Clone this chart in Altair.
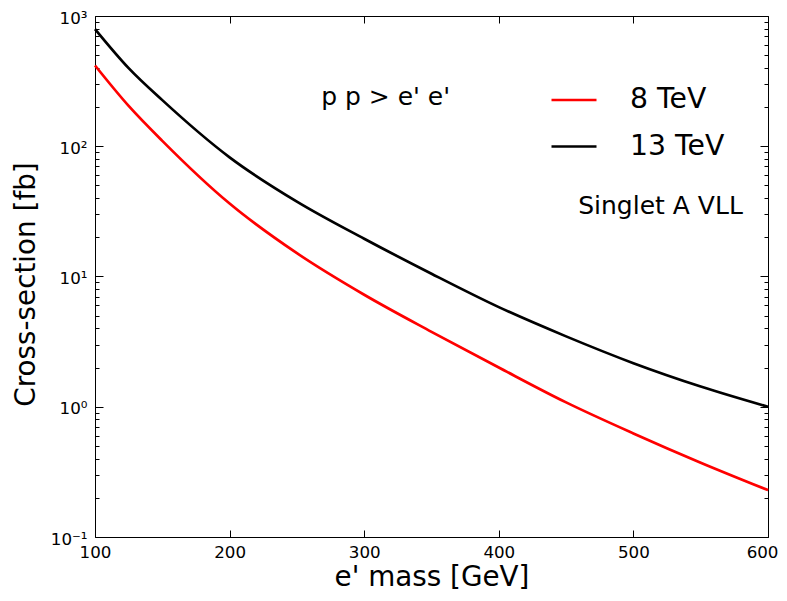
import altair as alt
import pandas as pd

# ---- data ----
mass = [100, 125, 150, 200, 250, 300, 350, 400, 450, 500, 550, 600]
xs_8tev = [417, 204, 110, 36.3, 15.1, 7.24, 3.76, 2.0, 1.08, 0.624, 0.372, 0.229]
xs_13tev = [794, 398, 226, 82.2, 37.6, 19.5, 10.5, 5.82, 3.47, 2.16, 1.43, 1.0]
series_names = ["8 TeV", "13 TeV"]
series_colors = ["#ff0000", "#000000"]

x_ticks = [100, 200, 300, 400, 500, 600]
y_major = [0.1, 1, 10, 100, 1000]
y_major_labels = ["10\u207b\u00b9", "10\u2070", "10\u00b9", "10\u00b2", "10\u00b3"]
y_minor = [m * 10.0 ** e for e in [-1, 0, 1, 2] for m in range(2, 10)]

notes = ["p p > e' e'", "Singlet A VLL"]
note_mass = [268, 459]
note_xs = [207, 30.3]

W, H = 673, 521

df = pd.DataFrame(
    {
        "mass": mass * 2,
        "xs": xs_8tev + xs_13tev,
        "series": [series_names[0]] * len(mass) + [series_names[1]] * len(mass),
    }
)
notes_df = pd.DataFrame({"text": notes, "mass": note_mass, "xs": note_xs})

xscale = alt.Scale(domain=[100, 600], nice=False, zero=False)
yscale = alt.Scale(type="log", domain=[0.1, 1000], nice=False)

label_expr = " : ".join(
    f"datum.value > {v*0.5} && datum.value < {v*2} ? '{l}'"
    for v, l in zip(y_major, y_major_labels)
) + " : ''"

FONT = "DejaVu Sans"

lines = (
    alt.Chart(df)
    .mark_line(strokeWidth=2.7, interpolate="monotone")
    .encode(
        x=alt.X(
            "mass:Q",
            scale=xscale,
            axis=alt.Axis(
                orient="bottom", values=x_ticks[:-1], ticks=False, domain=False, grid=False,
                labelFontSize=16.7, labelPadding=7, labelColor="#000",
                title="e'  mass [GeV]", titleFontSize=27.8, titleFontWeight="normal",
                titleColor="#000", titlePadding=3, labelFlush=False,
            ),
        ),
        y=alt.Y(
            "xs:Q",
            scale=yscale,
            axis=alt.Axis(
                orient="left", values=y_major, labelExpr=label_expr, ticks=False,
                domain=False, grid=False, labelFontSize=16.7, labelPadding=8,
                labelOffset=2, labelColor="#000", title="Cross-section [fb]",
                titleFontSize=27.8, titleFontWeight="normal", titleColor="#000",
                titlePadding=10, titleY=268,
            ),
        ),
        color=alt.Color(
            "series:N",
            scale=alt.Scale(domain=series_names, range=series_colors),
            legend=alt.Legend(
                orient="none", legendX=455, legendY=60, title=None,
                symbolType="stroke", symbolSize=2025, symbolStrokeWidth=2.7,
                labelFontSize=28.3, labelOffset=32, padding=0, rowPadding=8.5,
                labelColor="#000",
            ),
        ),
    )
)


def tick_layer(xaxis, yaxis):
    return alt.Chart(df).mark_point(opacity=0).encode(
        x=alt.X("mass:Q", scale=xscale, axis=xaxis),
        y=alt.Y("xs:Q", scale=yscale, axis=yaxis),
    )


def ax(orient, values, size, offset):
    return alt.Axis(
        orient=orient, values=values, labels=False, domain=False, grid=False,
        ticks=True, tickSize=size, tickColor="#000", tickWidth=1, offset=offset,
        title=None,
    )


# last x label kept inside the page (flush-aligned, pushed outward a little)
last_label_axis = alt.Axis(
    orient="bottom", values=x_ticks[-1:], ticks=False, domain=False, grid=False,
    labelFontSize=16.7, labelPadding=7, labelColor="#000",
    labelFlush=True, labelFlushOffset=10, title=None,
)

layers = [
    lines,
    tick_layer(last_label_axis, None),
    tick_layer(ax("top", x_ticks, 7, -H), None),
    tick_layer(ax("bottom", x_ticks, 7, -H), None),
    tick_layer(None, ax("right", y_major, 8, -W)),
    tick_layer(None, ax("right", y_minor, 4, -W)),
    tick_layer(None, ax("left", y_major, 8, -W)),
    tick_layer(None, ax("left", y_minor, 4, -W)),
]

text = (
    alt.Chart(notes_df)
    .mark_text(align="left", baseline="alphabetic", fontSize=25, font=FONT, color="#000")
    .encode(
        x=alt.X("mass:Q", scale=xscale, axis=None),
        y=alt.Y("xs:Q", scale=yscale, axis=None),
        text="text:N",
    )
)
layers.append(text)

chart = (
    alt.layer(*layers)
    .resolve_axis(x="independent", y="independent")
    .properties(
        width=W,
        height=H,
        autosize=alt.AutoSizeParams(type="none"),
        padding={"left": 87, "top": 8, "right": 11, "bottom": 56},
    )
    .configure(font=FONT)
    .configure_view(stroke="#000", strokeWidth=1)
)

chart.save("out.html", embed_options={"renderer": "svg", "actions": False})
